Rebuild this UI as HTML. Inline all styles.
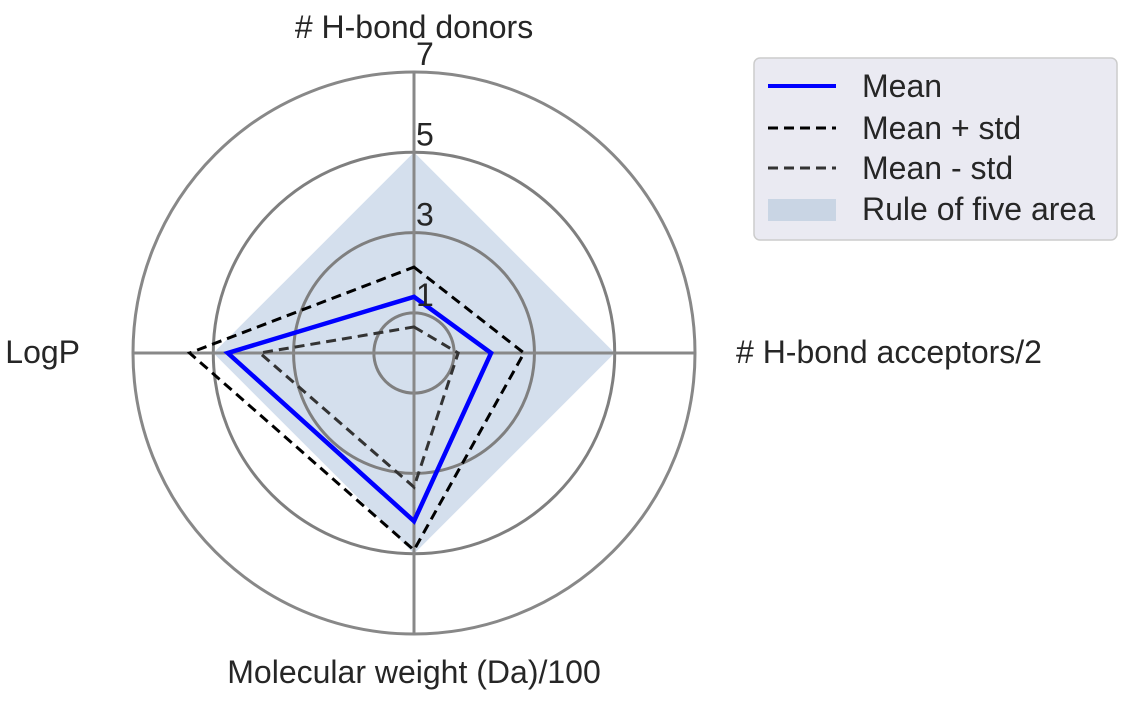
<!DOCTYPE html>
<html><head><meta charset="utf-8"><style>
body{margin:0;background:#fff;width:1132px;height:706px;overflow:hidden;font-family:"Liberation Sans",Arial,sans-serif}
svg text{font-family:"Liberation Sans",Arial,sans-serif;fill:#262626}
</style></head><body>
<svg id="chart" width="1132" height="706" viewBox="0 0 1132 706" xmlns="http://www.w3.org/2000/svg">
<g id="area"></g>
<g id="grid"></g>
<g id="series"></g>
<g id="labels"></g>
<g>
<rect x="754" y="58" width="363" height="182" rx="6" fill="#eaeaf2" stroke="#cccccc" stroke-width="1.5"/>
<line x1="768" y1="86" x2="836" y2="86" stroke="#0000ff" stroke-width="4"/>
<text x="862" y="97" font-size="32">Mean</text>
<line x1="768" y1="128" x2="836" y2="128" stroke="#000" stroke-width="3" stroke-dasharray="10,6"/>
<text x="862" y="139" font-size="32">Mean + std</text>
<line x1="768" y1="168" x2="836" y2="168" stroke="#333" stroke-width="3" stroke-dasharray="10,6"/>
<text x="862" y="179" font-size="32">Mean - std</text>
<rect x="768" y="199" width="68" height="22" fill="#c9d5e4"/>
<text x="862" y="220" font-size="32">Rule of five area</text>
</g>
</svg>
<script>
const axes = ["# H-bond donors", "# H-bond acceptors/2", "Molecular weight (Da)/100", "LogP"];
const ticks = [1, 3, 5, 7];
const ruleOfFive = [5, 5, 5, 5];
const meanVals = [1.4, 1.92, 4.19, 4.64];
const plusVals = [2.14, 2.74, 4.91, 5.59];
const minusVals = [0.65, 1.1, 3.34, 3.84];

const NS = "http://www.w3.org/2000/svg";
const cx = 414, cy = 353, rmax = 7, R = 281;
const rs = v => v / rmax * R;
const ang = i => -Math.PI / 2 + i * Math.PI / 2;
const pt = (i, v) => [cx + rs(v) * Math.cos(ang(i)), cy + rs(v) * Math.sin(ang(i))];
function mk(tag, attrs, parent) {
  const e = document.createElementNS(NS, tag);
  for (const k in attrs) e.setAttribute(k, attrs[k]);
  parent.appendChild(e); return e;
}
const area = document.getElementById('area');
const grid = document.getElementById('grid');
const series = document.getElementById('series');
const labels = document.getElementById('labels');

ticks.forEach(t => {
  const c = mk('circle', {cx: cx, cy: cy, r: rs(t), fill: 'none', stroke: t === 7 ? '#888' : '#7f7f7f', 'stroke-width': 3}, grid);
  
  
  const tx = mk('text', {x: cx + 2, y: cy - rs(t) - 7, 'font-size': 32}, labels);
  tx.textContent = t;
  
  
});
axes.forEach((a, i) => {
  const [x, y] = pt(i, rmax);
  const l = mk('line', {x1: cx, y1: cy, x2: x, y2: y, stroke: '#888', 'stroke-width': 3}, grid);
  
  
});
const lblPos = [[414, 38, 'middle'], [736, 363, 'start'], [414, 683, 'middle'], [80, 363, 'end']];
axes.forEach((a, i) => {
  const t = mk('text', {x: lblPos[i][0], y: lblPos[i][1], 'text-anchor': lblPos[i][2], 'font-size': 32}, labels);
  t.textContent = a;
  
  
});
function poly(vals, attrs, name, parent) {
  const p = mk('polygon', Object.assign({points: vals.map((v, i) => pt(i, v).join(',')).join(' ')}, attrs), parent);
  
  
}
poly(ruleOfFive, {fill: '#b0c4de', 'fill-opacity': 0.55, stroke: 'none'}, 'rule-of-five-area', area);
poly(minusVals, {fill: 'none', stroke: '#333', 'stroke-width': 3, 'stroke-dasharray': '10,6'}, 'mean-minus-std-line', series);
poly(plusVals, {fill: 'none', stroke: '#000', 'stroke-width': 3, 'stroke-dasharray': '10,6'}, 'mean-plus-std-line', series);
poly(meanVals, {fill: 'none', stroke: '#0000ff', 'stroke-width': 4.5}, 'mean-line', series);
</script>
</body></html>
